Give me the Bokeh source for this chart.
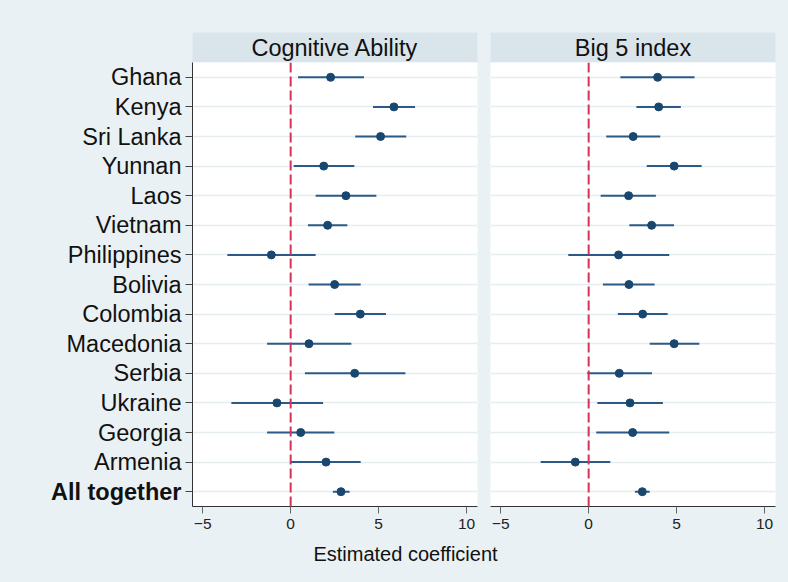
from bokeh.plotting import figure
from bokeh.layouts import row, column
from bokeh.models import Range1d, FactorRange, Span, ColumnDataSource, FixedTicker
from bokeh.embed import file_html
from bokeh.resources import INLINE
from bokeh.core.properties import value

countries = ["Ghana", "Kenya", "Sri Lanka", "Yunnan", "Laos", "Vietnam", "Philippines",
             "Bolivia", "Colombia", "Macedonia", "Serbia", "Ukraine", "Georgia", "Armenia",
             "All together"]
cog_est = [2.27, 5.87, 5.11, 1.88, 3.14, 2.10, -1.10, 2.50, 3.96, 1.04, 3.64, -0.78, 0.57, 2.01, 2.86]
cog_lo = [0.42, 4.68, 3.67, 0.17, 1.42, 0.98, -3.60, 1.02, 2.50, -1.34, 0.81, -3.37, -1.34, 0.02, 2.40]
cog_hi = [4.17, 7.07, 6.57, 3.62, 4.87, 3.22, 1.42, 3.98, 5.42, 3.45, 6.52, 1.84, 2.48, 3.98, 3.35]
big5_est = [3.92, 3.98, 2.53, 4.86, 2.27, 3.58, 1.70, 2.29, 3.07, 4.86, 1.74, 2.35, 2.50, -0.76, 3.05]
big5_lo = [1.80, 2.71, 1.00, 3.30, 0.68, 2.31, -1.16, 0.81, 1.66, 3.47, -0.08, 0.49, 0.43, -2.73, 2.63]
big5_hi = [6.02, 5.24, 4.07, 6.42, 3.82, 4.85, 4.58, 3.75, 4.49, 6.29, 3.60, 4.22, 4.58, 1.23, 3.47]
panel_titles = ["Cognitive Ability", "Big 5 index"]
x_ticks = [-5, 0, 5, 10]
x_title = "Estimated coefficient"
bold_row = "All together"

BG = "#EAF1F4"
HDR = "#D9E5EB"
NAVY = "#1A476F"
CI_COL = "#2B5A88"
RED = "#D8315B"
GRID = "#E5EDF0"
FONT = "Liberation Sans"
XR = (-5.58, 10.62)

yrange = FactorRange(factors=countries[::-1])


def header(title, width, bl, br):
    p = figure(width=width, height=62, x_range=Range1d(0, 1), y_range=Range1d(0, 1),
               x_axis_location=None, y_axis_location=None,
               output_backend="svg", toolbar_location=None,
               min_border_left=bl, min_border_right=br, min_border_top=32, min_border_bottom=0,
               background_fill_color=HDR, border_fill_color=BG, outline_line_color=None)
    p.grid.visible = False
    p.text(x=[0.5], y=[0.5], text=[title], text_align="center", text_baseline="middle",
           text_font=value(FONT), text_font_size="23.5px", text_color="#111111")
    return p


def panel(est, lo, hi, width, bl, br, show_y):
    src = ColumnDataSource(dict(cat=countries, est=est, lo=lo, hi=hi))
    p = figure(width=width, height=478,
               x_range=Range1d(*XR), y_range=yrange,
               y_axis_location="left" if show_y else None,
               output_backend="svg", toolbar_location=None,
               min_border_left=bl, min_border_right=br, min_border_top=0, min_border_bottom=34,
               background_fill_color="white", border_fill_color=BG, outline_line_color=None)
    p.xgrid.visible = False
    p.ygrid.grid_line_color = GRID
    p.ygrid.grid_line_width = 1.5
    p.xaxis.ticker = FixedTicker(ticks=x_ticks)
    p.xaxis.major_label_text_font = FONT
    p.xaxis.major_label_text_font_size = "15.5px"
    p.xaxis.major_label_text_color = "#222222"
    p.xaxis.major_tick_out = 7
    p.xaxis.major_tick_in = 0
    p.xaxis.minor_tick_out = 0
    p.xaxis.minor_tick_in = 0
    p.xaxis.major_tick_line_color = "#666666"
    p.xaxis.axis_line_color = "#333333"
    p.xaxis.major_label_standoff = 5
    if show_y:
        ax = p.yaxis[0]
        ax.major_tick_out = 7
        ax.major_tick_in = 0
        ax.major_label_standoff = 0
        ax.major_label_text_font_size = "0px"
        ax.major_label_text_alpha = 0
        ax.axis_line_color = "#333333"
        ax.major_tick_line_color = "#444444"
    p.add_layout(Span(location=0, dimension="height", line_color=RED, line_dash="10 4",
                      line_width=2))
    p.segment(x0="lo", y0="cat", x1="hi", y1="cat", source=src, line_color=CI_COL, line_width=2)
    p.scatter(x="est", y="cat", source=src, size=8, fill_color=NAVY, line_color=NAVY)
    return p


# country labels (real text), bold for the pooled row
lab_src = ColumnDataSource(dict(
    cat=countries,
    text=countries,
    style=["bold" if c == bold_row else "normal" for c in countries],
))
yl = figure(width=184, height=478, x_range=Range1d(0, 184), y_range=yrange,
            x_axis_location=None, y_axis_location=None,
            output_backend="svg", toolbar_location=None,
            min_border_left=0, min_border_right=0, min_border_top=0, min_border_bottom=34,
            background_fill_color=BG, border_fill_color=BG, outline_line_color=None)
yl.grid.visible = False
yl.text(x=181, y="cat", text="text", source=lab_src, text_align="right",
        text_baseline="middle", text_font=value(FONT), text_font_size="23.5px",
        text_font_style="style", text_color="#111111")

hL = header(panel_titles[0], 483, 192, 6)
hR = header(panel_titles[1], 305, 7, 13)
mL = panel(cog_est, cog_lo, cog_hi, 299, 8, 6, True)
mR = panel(big5_est, big5_lo, big5_hi, 305, 7, 13, False)

lab = figure(width=788, height=42, x_range=Range1d(0, 788), y_range=Range1d(0, 42),
             x_axis_location=None, y_axis_location=None,
             output_backend="svg", toolbar_location=None,
             min_border_left=0, min_border_right=0, min_border_top=0, min_border_bottom=0,
             background_fill_color=BG, border_fill_color=BG, outline_line_color=None)
lab.grid.visible = False
lab.text(x=[405], y=[29], text=[x_title], text_align="center", text_baseline="middle",
         text_font=value(FONT), text_font_size="20px", text_color="#111111")

bgstyle = {"background-color": BG}
layout = column(row(hL, hR, styles=bgstyle), row(yl, mL, mR, styles=bgstyle), lab,
                styles=bgstyle)
open("out.html", "w").write(file_html(layout, INLINE))
